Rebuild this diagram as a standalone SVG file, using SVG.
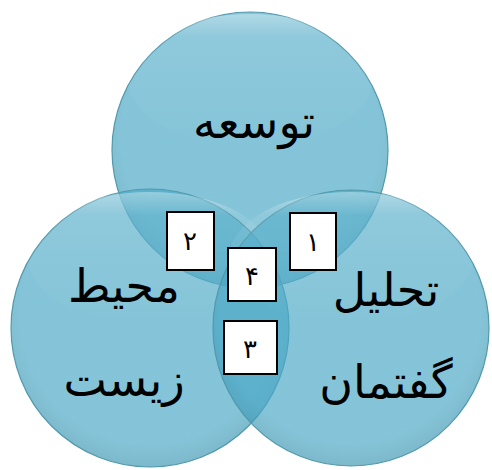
<svg xmlns="http://www.w3.org/2000/svg" width="492" height="470" viewBox="0 0 492 470">
  <defs>
    <radialGradient id="g" cx="0.5" cy="0.45" r="0.55">
      <stop offset="0" stop-color="#4ba8c6"/>
      <stop offset="0.85" stop-color="#4ba8c6"/>
      <stop offset="1" stop-color="#3f97b2"/>
    </radialGradient>
    <linearGradient id="gloss" x1="0" y1="0" x2="0" y2="1">
      <stop offset="0" stop-color="#ffffff" stop-opacity="0.35"/>
      <stop offset="0.18" stop-color="#ffffff" stop-opacity="0.08"/>
      <stop offset="1" stop-color="#ffffff" stop-opacity="0"/>
    </linearGradient>
  </defs>
  <style>
    .c { fill: url(#g); fill-opacity: 0.68; stroke: #5199ab; stroke-width: 1.2; }
    .gl { fill: url(#gloss); }
    .lbl { font-family: "DejaVu Sans", "Liberation Serif", serif; font-size: 46px; fill: #000; text-anchor: middle; direction: rtl; }
    .box { fill: #fff; stroke: #000; stroke-width: 2; }
    .num { font-family: "DejaVu Sans", "Liberation Sans", sans-serif; font-size: 26px; fill: #000; text-anchor: middle; }
  </style>
  <rect width="492" height="470" fill="#fff"/>
  <g id="circle-top">
    <circle class="c" cx="250" cy="150" r="138"/>
    <ellipse class="gl" cx="250" cy="80" rx="122" ry="66"/>
    <text class="lbl" x="254" y="138">توسعه</text>
  </g>
  <g id="circle-left">
    <circle class="c" cx="150" cy="328" r="139"/>
    <ellipse class="gl" cx="150" cy="258" rx="122" ry="66"/>
    <text class="lbl" x="124" y="302">محیط</text>
    <text class="lbl" x="124" y="396">زیست</text>
  </g>
  <g id="circle-right">
    <circle class="c" cx="351" cy="328" r="138"/>
    <ellipse class="gl" cx="351" cy="258" rx="122" ry="66"/>
    <text class="lbl" x="386" y="306">تحلیل</text>
    <text class="lbl" x="386" y="398">گفتمان</text>
  </g>
  <g id="box-1">
    <rect class="box" x="290" y="213" width="46" height="57"/>
    <text class="num" x="313" y="251">۱</text>
  </g>
  <g id="box-2">
    <rect class="box" x="167" y="212" width="47" height="58"/>
    <text class="num" x="190" y="250">۲</text>
  </g>
  <g id="box-4">
    <rect class="box" x="228" y="248" width="48" height="53"/>
    <text class="num" x="252" y="285">۴</text>
  </g>
  <g id="box-3">
    <rect class="box" x="224" y="321" width="53" height="53"/>
    <text class="num" x="250" y="358">۳</text>
  </g>
</svg>
